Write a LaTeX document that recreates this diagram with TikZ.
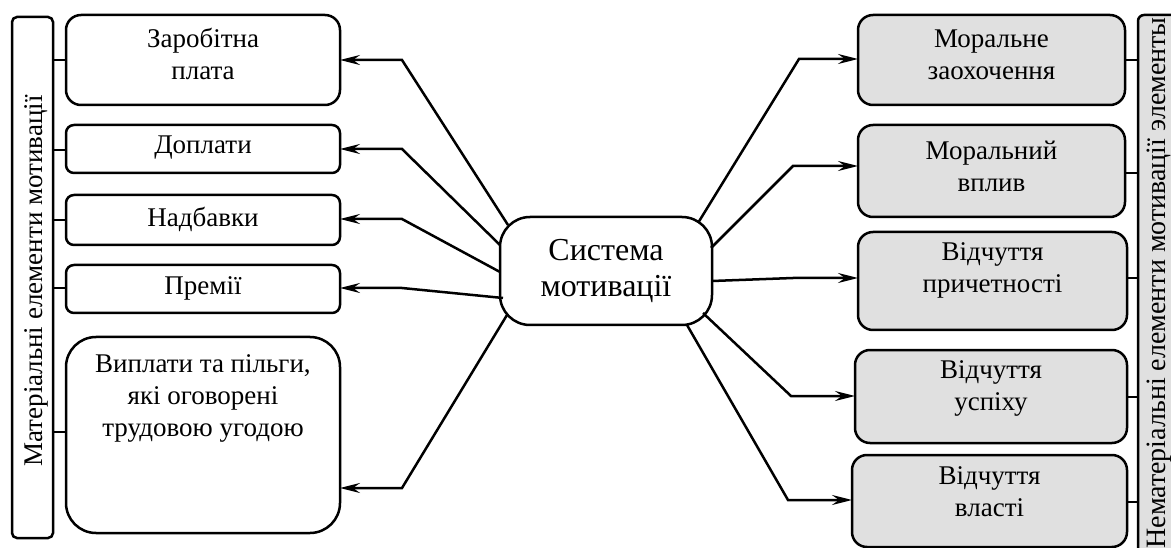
\documentclass[tikz,border=0pt]{standalone}
\usepackage{fontspec}
\setmainfont{Liberation Serif}
\usetikzlibrary{arrows.meta,calc}
\definecolor{boxgray}{RGB}{224,224,224}
\tikzset{
  every node/.style={inner sep=0pt, outer sep=0pt},
  wbox/.style={draw, line width=2.5pt, fill=white},
  gbox/.style={draw, line width=2.5pt, fill=boxgray},
  lbl/.style={align=center, font=\fontsize{27}{32}\selectfont},
  conn/.style={line width=2.5pt},
  arr/.style={line width=2.5pt, -{Stealth[length=20pt, width=10pt, inset=7pt]}},
}
\begin{document}
\begin{tikzpicture}[x=1pt, y=-1pt]
\useasboundingbox (0,0) rectangle (1171,548);
% left bar
\node[wbox, rounded corners=5pt, minimum width=41pt, minimum height=521pt] (lbar) at (32.5,277.5) {};
\node[lbl, rotate=90, anchor=base] (lbart) at (42,281) {Матеріальні елементи мотивації};
% right bar
\node[gbox, rounded corners=6pt, minimum width=60pt, minimum height=545pt] (rbar) at (1168,287.5) {};
\node[lbl, font=\fontsize{28}{32}\selectfont, rotate=90, anchor=base] (rbart) at (1165,283) {Нематеріальні елементи мотивації элементы};
% left boxes
\node[wbox, rounded corners=15pt, minimum width=274pt, minimum height=90pt] (L1) at (203,60) {};
\node[wbox, rounded corners=8pt, minimum width=274pt, minimum height=48pt] (L2) at (203,149) {};
\node[wbox, rounded corners=8pt, minimum width=274pt, minimum height=50pt] (L3) at (203,220) {};
\node[wbox, rounded corners=8pt, minimum width=274pt, minimum height=48pt] (L4) at (203,289) {};
\node[wbox, rounded corners=30pt, minimum width=274pt, minimum height=196pt] (L5) at (203,435) {};
\node[lbl] (L1t) at (203,54) {Заробітна\\плата};
\node[lbl] (L2t) at (203,148) {Доплати};
\node[lbl] (L3t) at (203,219) {Надбавки};
\node[lbl] (L4t) at (203,288) {Премії};
\node[lbl] (L5t) at (203,398) {Виплати та пільги,\\які оговорені\\трудовою угодою};
% right boxes
\node[gbox, rounded corners=15pt, minimum width=267pt, minimum height=90pt] (R1) at (991.5,60) {};
\node[gbox, rounded corners=15pt, minimum width=267pt, minimum height=92pt] (R2) at (991.5,171) {};
\node[gbox, rounded corners=15pt, minimum width=269pt, minimum height=98pt] (R3) at (992.5,281) {};
\node[gbox, rounded corners=15pt, minimum width=272pt, minimum height=93pt] (R4) at (991,396.5) {};
\node[gbox, rounded corners=15pt, minimum width=275pt, minimum height=92pt] (R5) at (989.5,501) {};
\node[lbl] (R1t) at (991.5,55) {Моральне\\заохочення};
\node[lbl] (R2t) at (991.5,166) {Моральний\\вплив};
\node[lbl] (R3t) at (992.5,270) {Відчуття\\причетності};
\node[lbl] (R4t) at (991,388) {Відчуття\\успіху};
\node[lbl] (R5t) at (989.5,492) {Відчуття\\власті};
% centre
\node[wbox, rounded corners=30pt, minimum width=212pt, minimum height=108pt, align=center,
      font=\fontsize{32}{36}\selectfont] (C) at (606,271) {Система\\мотивації};
% bar connectors
\foreach \b/\y in {L1/60, L2/150, L3/220, L4/288, L5/432}
  \draw[conn] (lbar.east |- 0,\y) -- (\b.west |- 0,\y);
\foreach \b/\y in {R1/60, R2/173, R3/278, R4/397, R5/502}
  \draw[conn] (\b.east |- 0,\y) -- (rbar.west |- 0,\y);
% bends
\coordinate (bl1) at (402,60);
\coordinate (bl2) at (402,149);
\coordinate (bl3) at (402,219);
\coordinate (bl4) at (402,288);
\coordinate (bl5) at (402,488);
\coordinate (br1) at (799,59);
\coordinate (br2) at (793,166);
\coordinate (br3) at (793,278);
\coordinate (br4) at (791,396);
\coordinate (br5) at (788,500);
% left arrows
\draw[arr] ($(C.center)+(-98,-46)$) -- (bl1) -- (L1.east |- bl1);
\draw[arr] ($(C.center)+(-106,-26)$) -- (bl2) -- (L2.east |- bl2);
\draw[arr] ($(C.center)+(-106,1)$) -- (bl3) -- (L3.east |- bl3);
\draw[arr] ($(C.center)+(-103,27)$) -- (bl4) -- (L4.east |- bl4);
\draw[arr] ($(C.center)+(-99,44)$) -- (bl5) -- (L5.east |- bl5);
% right arrows
\draw[arr] ($(C.center)+(92,-48)$) -- (br1) -- (R1.west |- br1);
\draw[arr] ($(C.center)+(105,-23)$) -- (br2) -- (R2.west |- br2);
\draw[arr] ($(C.center)+(106,10)$) -- (br3) -- (R3.west |- br3);
\draw[arr] ($(C.center)+(97,42)$) -- (br4) -- (R4.west |- br4);
\draw[arr] ($(C.center)+(81,54)$) -- (br5) -- (R5.west |- br5);
\end{tikzpicture}
\end{document}
